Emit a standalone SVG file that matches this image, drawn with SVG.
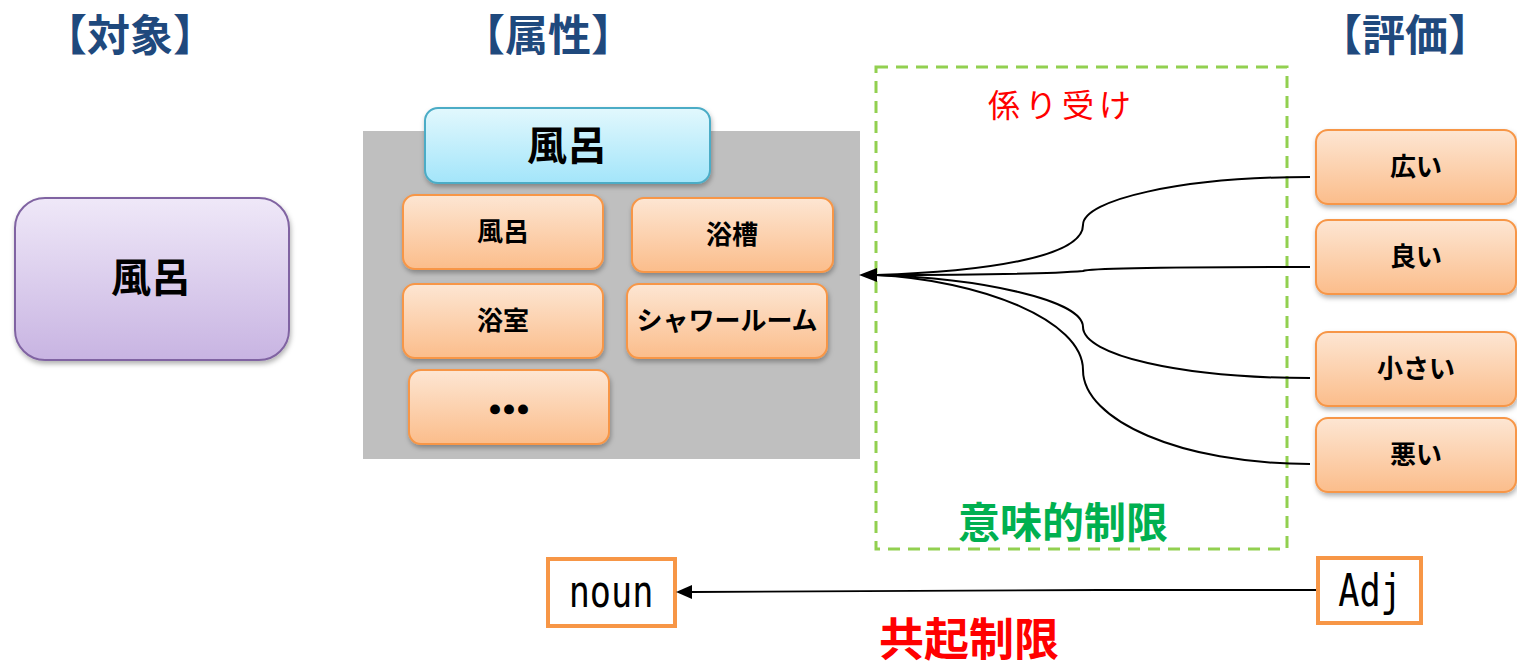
<svg xmlns="http://www.w3.org/2000/svg" width="1517" height="671" viewBox="0 0 1517 671">
<defs>
<linearGradient id="gPurple" x1="0" y1="0" x2="0" y2="1"><stop offset="0" stop-color="#efe8f8"/><stop offset="1" stop-color="#c8b4e2"/></linearGradient>
<linearGradient id="gBlue" x1="0" y1="0" x2="0" y2="1"><stop offset="0" stop-color="#e2f8fd"/><stop offset="1" stop-color="#a3e5fa"/></linearGradient>
<linearGradient id="gOrange" x1="0" y1="0" x2="0" y2="1"><stop offset="0" stop-color="#fde6d3"/><stop offset="1" stop-color="#fbbd8b"/></linearGradient>
<filter id="shadow" x="-10%" y="-10%" width="130%" height="140%"><feDropShadow dx="1" dy="3" stdDeviation="2.5" flood-color="#000" flood-opacity="0.3"/></filter>
</defs>
<style>
.head{font-family:"Noto Sans CJK JP","Noto Sans CJK SC",sans-serif;font-weight:700;font-size:43px;fill:#1f497d;text-anchor:middle}
.big{font-family:"Noto Sans CJK JP",sans-serif;font-weight:700;font-size:40px;fill:#000;text-anchor:middle}
.small{font-family:"Noto Sans CJK JP",sans-serif;font-weight:700;font-size:26px;fill:#000;text-anchor:middle}
.dots{font-family:"Noto Sans CJK JP",sans-serif;font-weight:700;font-size:42px;fill:#000;stroke:#000;stroke-width:3;text-anchor:middle}
.obox{fill:url(#gOrange);stroke:#f79646;stroke-width:2;filter:url(#shadow)}
.conn{fill:none;stroke:#000;stroke-width:2}
.mono{font-family:"DejaVu Sans Mono","Liberation Mono",monospace;font-size:44px;fill:#000;text-anchor:middle}
</style>

<rect x="0" y="0" width="1517" height="671" fill="#fff"/>

<text class="head" x="130" y="51">【対象】</text>
<text class="head" x="548" y="51">【属性】</text>
<text class="head" x="1405" y="51">【評価】</text>

<g id="object">
<rect x="15" y="198" width="274" height="162" rx="30" fill="url(#gPurple)" stroke="#8064a2" stroke-width="2" filter="url(#shadow)"/>
<text class="big" x="151" y="292">風呂</text>
</g>

<g id="attr-group">
<rect x="363" y="131" width="497" height="328" fill="#bfbfbf"/>
</g>

<g id="attr-title">
<rect x="425" y="108" width="285" height="75" rx="13" fill="url(#gBlue)" stroke="#4bacc6" stroke-width="2" filter="url(#shadow)"/>
<text class="big" x="567" y="160">風呂</text>
</g>

<g id="attr-furo"><rect class="obox" x="403" y="195" width="200" height="74" rx="12"/><text class="small" x="503" y="241">風呂</text></g>
<g id="attr-yokuso"><rect class="obox" x="632" y="198" width="201" height="74" rx="12"/><text class="small" x="732" y="244">浴槽</text></g>
<g id="attr-yokushitsu"><rect class="obox" x="403" y="284" width="200" height="74" rx="12"/><text class="small" x="503" y="330">浴室</text></g>
<g id="attr-shower"><rect class="obox" x="627" y="284" width="200" height="74" rx="12"/><text class="small" x="727" y="330">シャワールーム</text></g>
<g id="attr-etc"><rect class="obox" x="409" y="370" width="200" height="74" rx="12"/><text class="dots" x="509" y="425">…</text></g>

<g id="semantic-box">
<rect x="876" y="67" width="411" height="482" fill="none" stroke="#92d050" stroke-width="3" stroke-dasharray="12 8"/>
<text x="1062" y="117" font-family="Noto Sans CJK JP,sans-serif" font-size="32" fill="#ff0000" text-anchor="middle" letter-spacing="5">係り受け</text>
<text x="1063" y="538" font-family="Noto Sans CJK JP,sans-serif" font-weight="700" font-size="42" fill="#00b050" text-anchor="middle">意味的制限</text>
</g>

<g id="eval-hiroi"><rect class="obox" x="1316" y="130" width="200" height="74" rx="12"/><text class="small" x="1416" y="176">広い</text></g>
<g id="eval-yoi"><rect class="obox" x="1316" y="220" width="200" height="74" rx="12"/><text class="small" x="1416" y="266">良い</text></g>
<g id="eval-chiisai"><rect class="obox" x="1316" y="332" width="200" height="74" rx="12"/><text class="small" x="1416" y="378">小さい</text></g>
<g id="eval-warui"><rect class="obox" x="1316" y="418" width="200" height="74" rx="12"/><text class="small" x="1416" y="464">悪い</text></g>

<g id="noun">
<rect x="548" y="559" width="127" height="67" fill="#fff" stroke="#f79646" stroke-width="4"/>
<text class="mono" transform="translate(611,607) scale(0.8,1)" x="0" y="0">noun</text>
</g>
<g id="adj">
<rect x="1318" y="558" width="103" height="65" fill="#fff" stroke="#f79646" stroke-width="4"/>
<text class="mono" transform="translate(1370,606) scale(0.8,1)" x="0" y="0">Adj</text>
</g>
<text x="969" y="656" font-family="Noto Sans CJK JP,sans-serif" font-weight="700" font-size="45" fill="#ff0000" text-anchor="middle">共起制限</text>

<g id="connectors">
<path class="conn" d="M1310,177 C1180,177 1083,200 1083,225 C1083,258 980,272 876,275"/>
<path class="conn" d="M1310,267 C1200,267 1090,268 1083,271 C1060,273 980,275 876,275"/>
<path class="conn" d="M1310,378 C1180,378 1083,355 1083,327 C1083,300 980,278 876,275"/>
<path class="conn" d="M1310,464 C1180,464 1083,420 1083,370 C1083,320 980,280 876,275"/>
<path d="M859,275 L877,268 L877,282 Z" fill="#000"/>
<path d="M1316,590 L1100,590 L692,592" fill="none" stroke="#000" stroke-width="1.8"/>
<path d="M676,592 L692,585 L692,599 Z" fill="#000"/>
</g>
</svg>
